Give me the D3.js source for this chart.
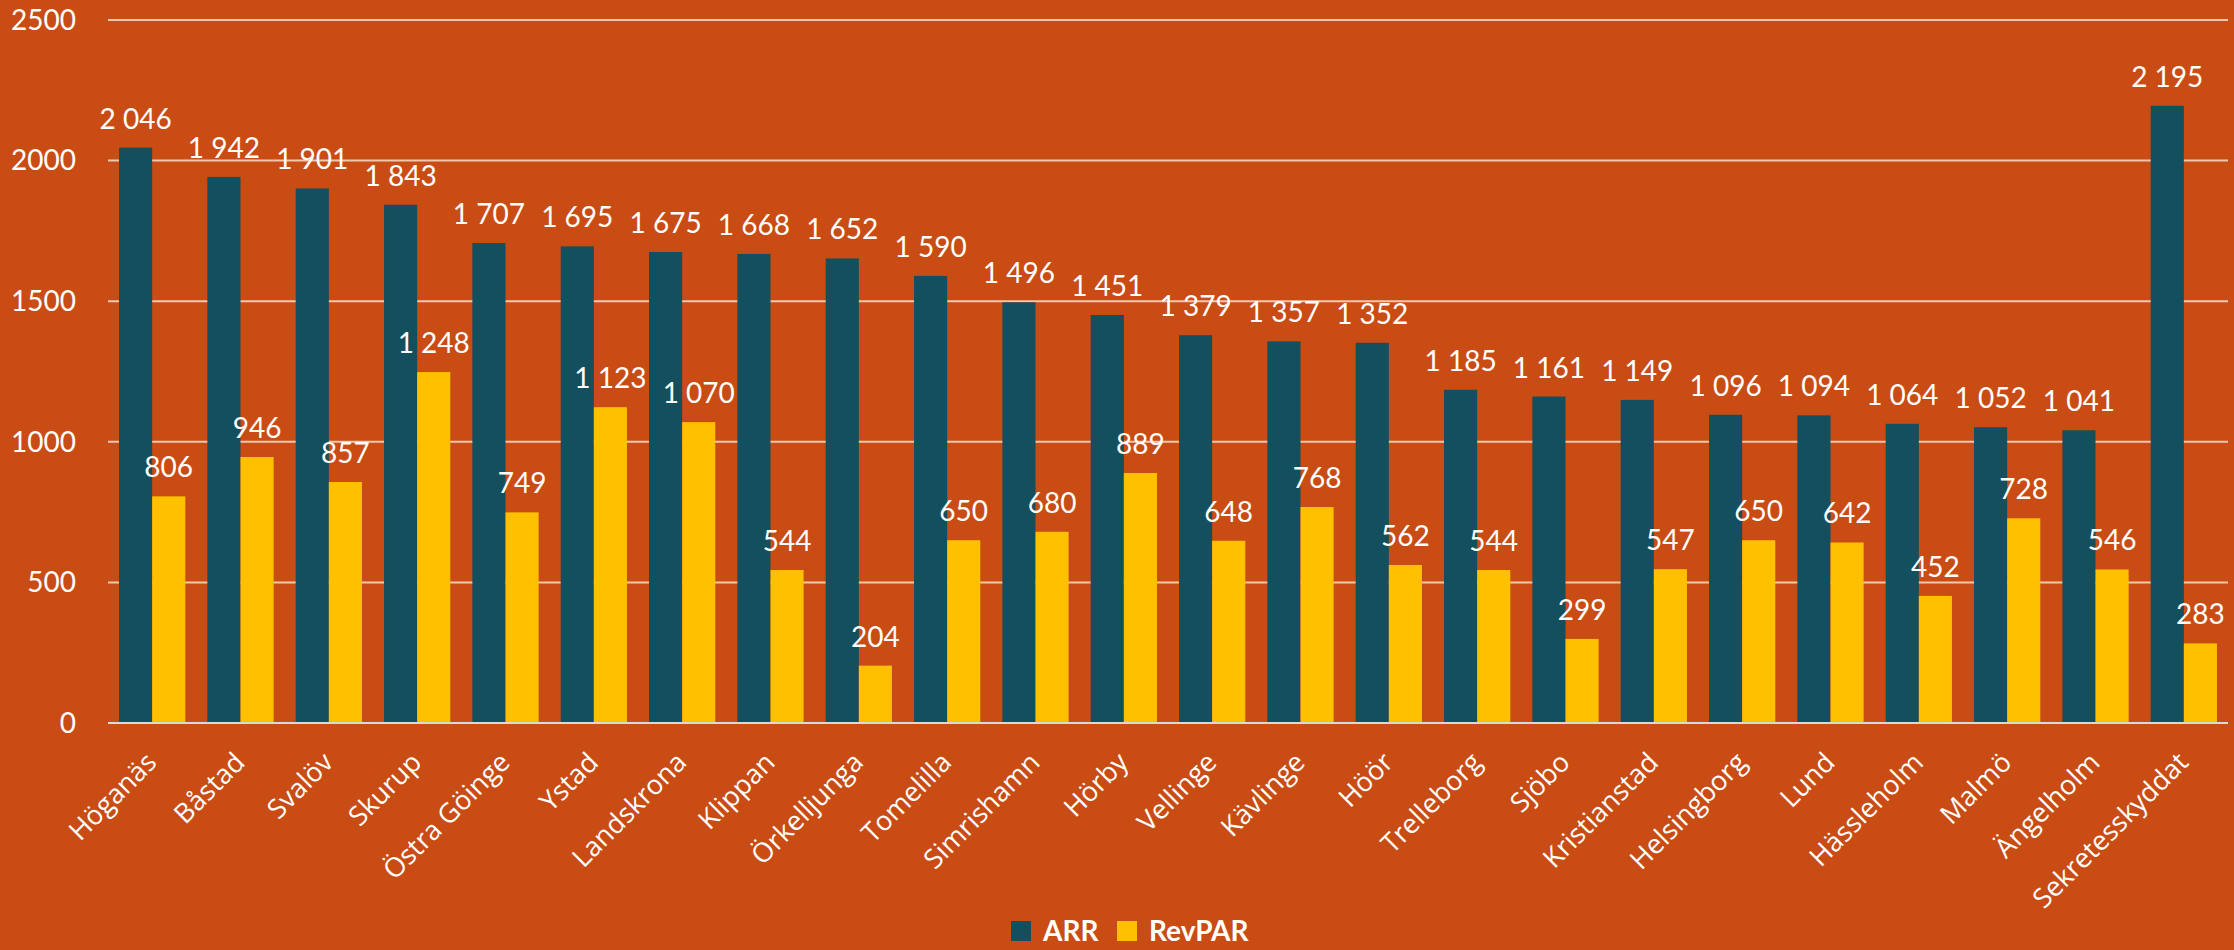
<!DOCTYPE html>
<html>
<head>
<meta charset="utf-8">
<title>ARR och RevPAR</title>
<script src="https://d3js.org/d3.v7.min.js"></script>
<style>
  body { margin: 0; background: #C94C14; }
  svg { display: block; }
</style>
</head>
<body>
<script>
// kommuner
var categories = ["Höganäs", "Båstad", "Svalöv", "Skurup", "Östra Göinge", "Ystad", "Landskrona",
  "Klippan", "Örkelljunga", "Tomelilla", "Simrishamn", "Hörby", "Vellinge", "Kävlinge", "Höör",
  "Trelleborg", "Sjöbo", "Kristianstad", "Helsingborg", "Lund", "Hässleholm", "Malmö",
  "Ängelholm", "Sekretesskyddat"];
var arr = [2046, 1942, 1901, 1843, 1707, 1695, 1675, 1668, 1652, 1590, 1496, 1451, 1379, 1357,
  1352, 1185, 1161, 1149, 1096, 1094, 1064, 1052, 1041, 2195];
var revpar = [806, 946, 857, 1248, 749, 1123, 1070, 544, 204, 650, 680, 889, 648, 768,
  562, 544, 299, 547, 650, 642, 452, 728, 546, 283];
var seriesNames = ["ARR", "RevPAR"];
var yTicks = [0, 500, 1000, 1500, 2000, 2500];

var w = 2234, h = 950;
var plotLeft = 108, plotRight = 2228, plotTop = 20, plotBottom = 723;
var colors = ["#134F5C", "#FFC000"];
var font = "Lato, 'Open Sans', sans-serif";
var labelFont = "'Open Sans', sans-serif";

var svg = d3.select("body").append("svg")
  .attr("width", w)
  .attr("height", h);

svg.append("rect").attr("width", w).attr("height", h).attr("fill", "#C94C14");

var x = d3.scaleBand().domain(categories).range([plotLeft, plotRight])
  .paddingInner(0.25).paddingOuter(0.125);
var xs = d3.scaleBand().domain(seriesNames).range([0, x.bandwidth()]);
var y = d3.scaleLinear().domain([0, 2500]).range([plotBottom, plotTop]);

// gridlines
svg.selectAll("line.grid")
  .data(yTicks.slice(1))
  .enter().append("line")
  .attr("x1", plotLeft).attr("x2", plotRight)
  .attr("y1", function (d) { return y(d); })
  .attr("y2", function (d) { return y(d); })
  .attr("stroke", "#F2C7AE")
  .attr("stroke-width", 2);

// y tick labels
svg.selectAll("text.ytick")
  .data(yTicks)
  .enter().append("text")
  .attr("x", 76)
  .attr("y", function (d) { return y(d); })
  .attr("dy", "0.35em")
  .attr("text-anchor", "end")
  .attr("fill", "#FFFFFF")
  .attr("font-family", font)
  .attr("font-size", 28)
  .text(function (d) { return d; });

var fmt = function (v) { return d3.format(",")(v).replace(/,/g, " "); };

var series = [arr, revpar];
series.forEach(function (vals, s) {
  var g = svg.append("g");
  g.selectAll("rect")
    .data(vals)
    .enter().append("rect")
    .attr("x", function (d, i) { return x(categories[i]) + xs(seriesNames[s]); })
    .attr("y", function (d) { return y(d); })
    .attr("width", xs.bandwidth())
    .attr("height", function (d) { return y(0) - y(d); })
    .attr("fill", colors[s]);
  g.selectAll("text")
    .data(vals)
    .enter().append("text")
    .attr("x", function (d, i) { return x(categories[i]) + xs(seriesNames[s]) + xs.bandwidth() / 2; })
    .attr("y", function (d) { return y(d) - 19; })
    .attr("text-anchor", "middle")
    .attr("fill", "#FFFFFF")
    .attr("font-family", font)
    .attr("font-size", 28)
    .text(function (d) { return fmt(d); });
});

// baseline
svg.append("line")
  .attr("x1", plotLeft).attr("x2", plotRight)
  .attr("y1", y(0)).attr("y2", y(0))
  .attr("stroke", "#D9D9D9")
  .attr("stroke-width", 2);

// x labels, rotated
svg.selectAll("text.xlab")
  .data(categories)
  .enter().append("text")
  .attr("transform", function (d) {
    return "translate(" + (x(d) + x.bandwidth() / 2 + 6) + "," + 764 + ") rotate(-45)";
  })
  .attr("text-anchor", "end")
  .attr("fill", "#FFFFFF")
  .attr("font-family", labelFont)
  .attr("font-size", 27)
  .text(function (d) { return d; });

// legend
var legend = svg.append("g");
var lx = [1011, 1117];
seriesNames.forEach(function (name, s) {
  legend.append("rect")
    .attr("x", lx[s]).attr("y", 921)
    .attr("width", 20).attr("height", 20)
    .attr("fill", colors[s]);
  legend.append("text")
    .attr("x", lx[s] + 32).attr("y", 941)
    .attr("fill", "#FFFFFF")
    .attr("font-family", font)
    .attr("font-weight", "bold")
    .attr("font-size", 28)
    .text(name);
});
</script>
</body>
</html>
